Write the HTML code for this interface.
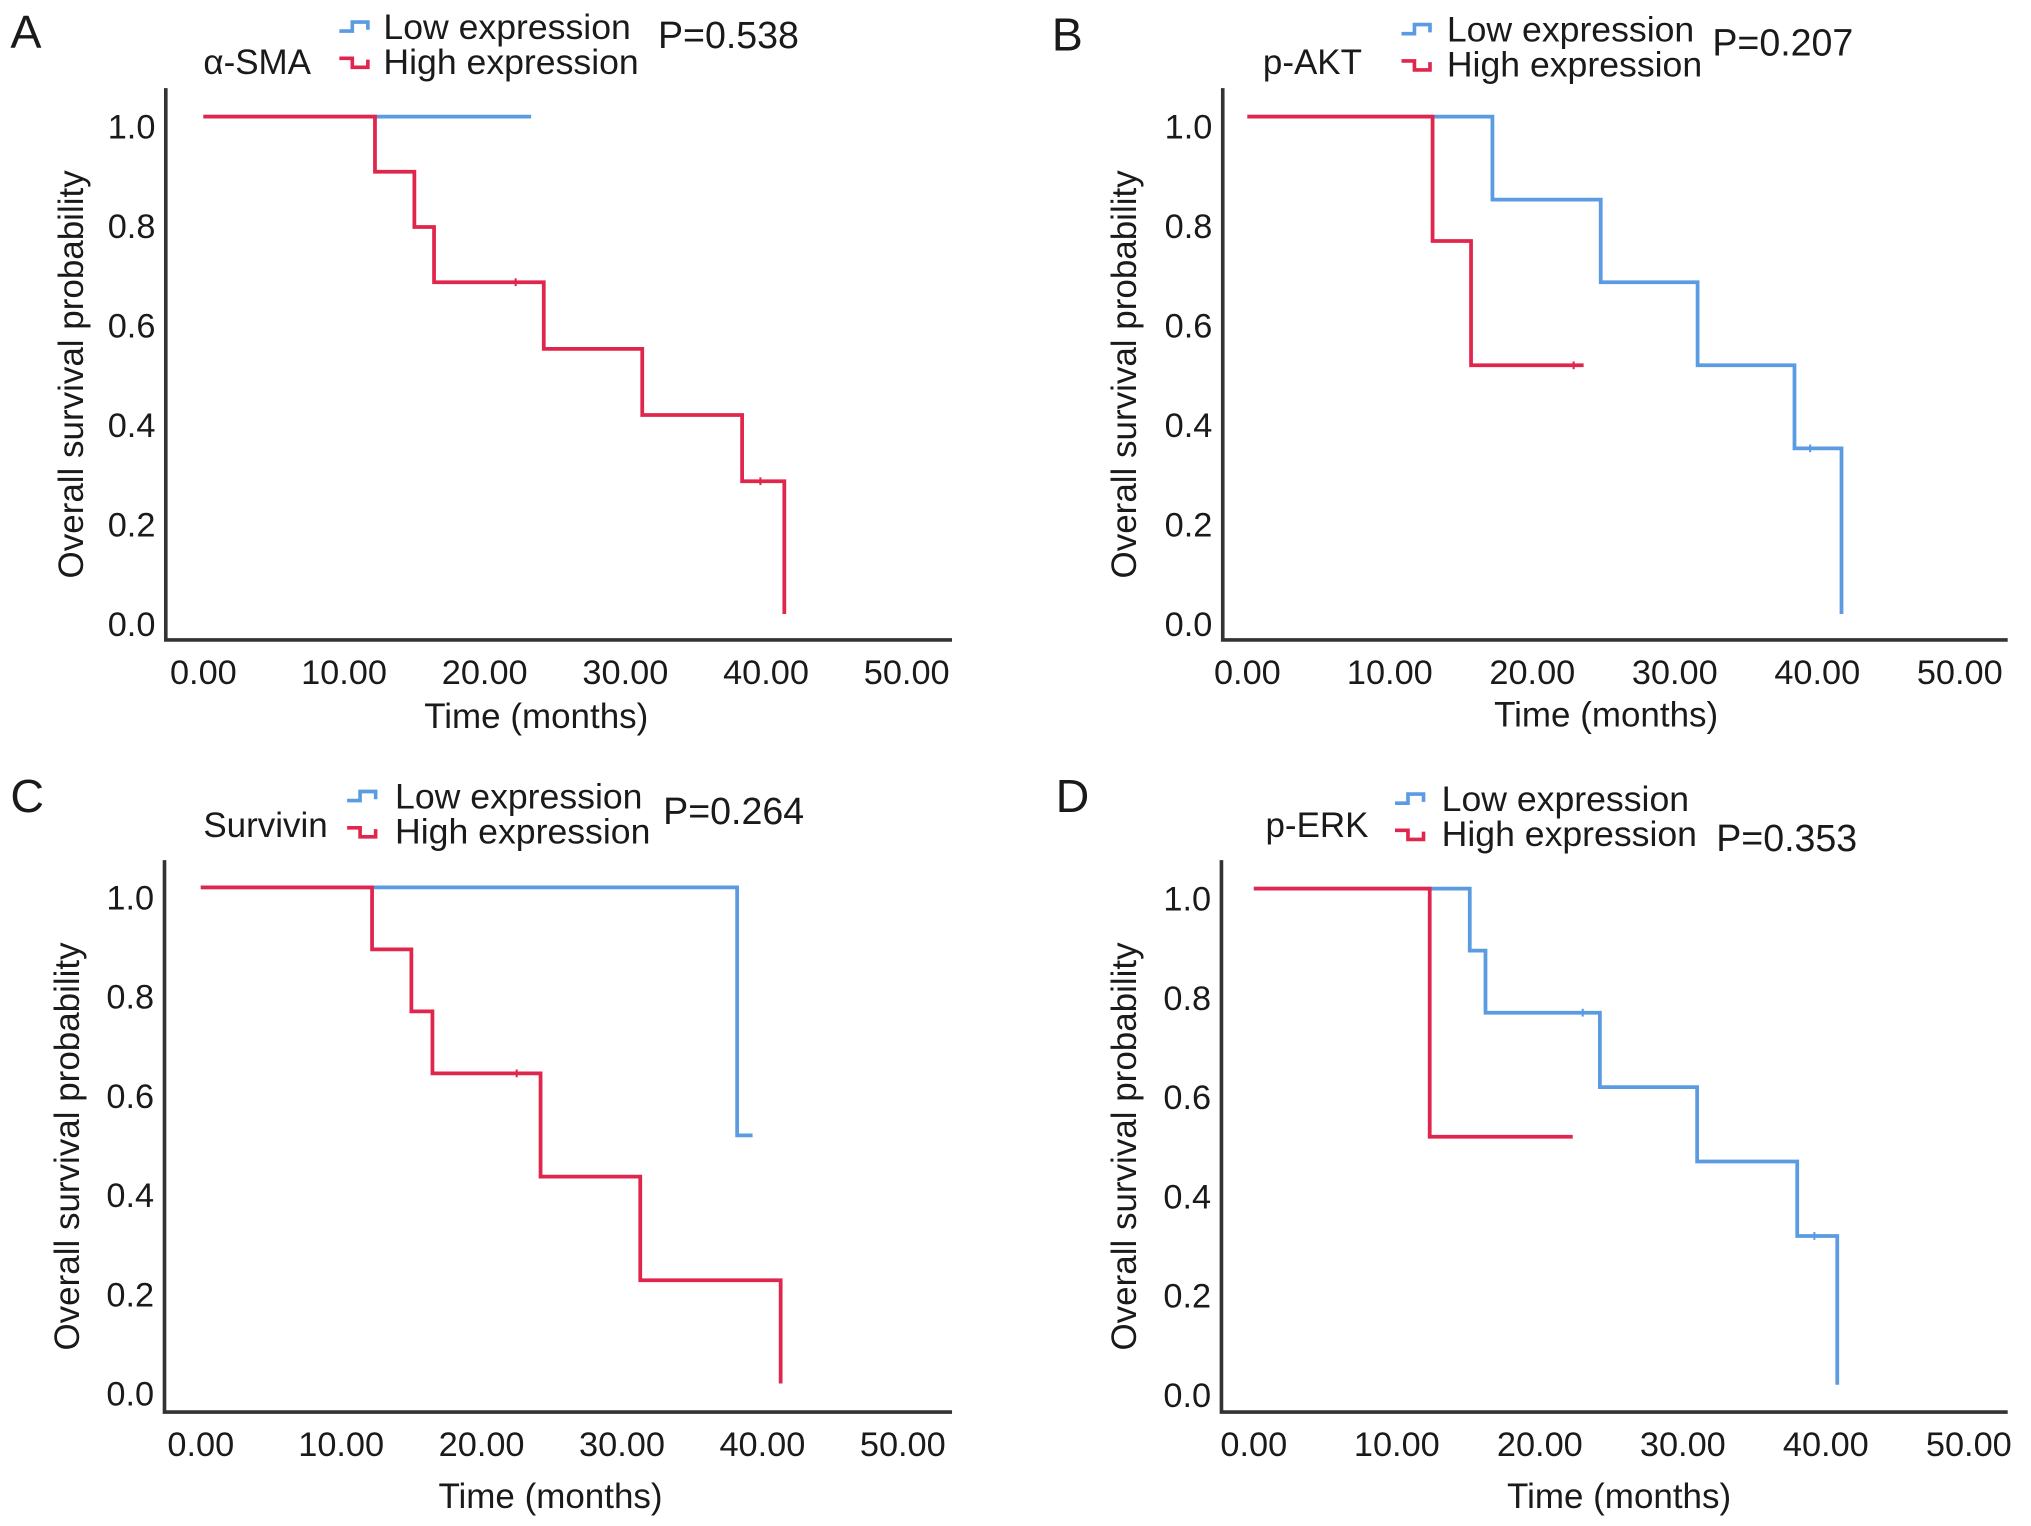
<!DOCTYPE html>
<html><head><meta charset="utf-8"><style>
html,body{margin:0;padding:0;background:#fff}
svg{display:block}
text{font-family:"Liberation Sans",Arial,sans-serif;fill:#1a1a1a}
</style></head><body>
<svg id="fig" width="2031" height="1526" viewBox="0 0 1568 1178" preserveAspectRatio="none" xmlns="http://www.w3.org/2000/svg"></svg>
<script>
const xTicks = [0, 10, 20, 30, 40, 50];
const xTickLabels = ["0.00", "10.00", "20.00", "30.00", "40.00", "50.00"];
const yTicks = [0, 0.2, 0.4, 0.6, 0.8, 1.0];
const yTickLabels = ["0.0", "0.2", "0.4", "0.6", "0.8", "1.0"];

// Panel A (alpha-SMA)
const aLowTimes = [0];          const aLowSurv = [1.0];          const aLowEnd = 23.3;
const aLowCensor = [];
const aHighTimes = [0, 12.2, 15.0, 16.4, 24.2, 31.2, 38.3, 41.3];
const aHighSurv = [1.0, 0.889, 0.778, 0.667, 0.533, 0.4, 0.267, 0.0];
const aHighEnd = 41.3;          const aHighCensor = [22.2, 39.6];
// Panel B (p-AKT)
const bLowTimes = [0, 17.2, 24.8, 31.6, 38.4, 41.7];
const bLowSurv = [1.0, 0.833, 0.667, 0.5, 0.333, 0.0];
const bLowEnd = 41.7;           const bLowCensor = [39.5];
const bHighTimes = [0, 13.0, 15.7];
const bHighSurv = [1.0, 0.75, 0.5];
const bHighEnd = 23.6;          const bHighCensor = [22.9];
// Panel C (Survivin)
const cLowTimes = [0, 38.2];    const cLowSurv = [1.0, 0.5];     const cLowEnd = 39.3;
const cLowCensor = [];
const cHighTimes = [0, 12.2, 15.0, 16.5, 24.2, 31.3, 41.3];
const cHighSurv = [1.0, 0.875, 0.75, 0.625, 0.417, 0.208, 0.0];
const cHighEnd = 41.3;          const cHighCensor = [22.5];
// Panel D (p-ERK)
const dLowTimes = [0, 15.1, 16.2, 24.2, 31.0, 38.0, 40.8];
const dLowSurv = [1.0, 0.875, 0.75, 0.6, 0.45, 0.3, 0.0];
const dLowEnd = 40.8;           const dLowCensor = [23.0, 39.2];
const dHighTimes = [0, 12.3];   const dHighSurv = [1.0, 0.5];    const dHighEnd = 22.3;
const dHighCensor = [];

const BLUE = "#5a9be2", RED = "#e0264c";
const NS = "http://www.w3.org/2000/svg";
const svg = document.getElementById("fig");
function mk(tag, attrs, parent, txt) {
  const e = document.createElementNS(NS, tag);
  for (const k in attrs) e.setAttribute(k, attrs[k]);
  if (txt !== undefined) e.textContent = txt;
  (parent || svg).appendChild(e);
  return e;
}

const panels = [
  {id:"a", letter:"A", lx:8, ly:37, marker:"α-SMA", mx:157, my:57, iconX:262, lowY:30, highY:57, lowTx:296, px:508, py:37, P:"P=0.538",
   ax:128, top:68, bottom:494, right:735, x0:157, x50:700, y1:90, y0:474, ytx:55, xtitleX:414, xtitleY:562,
   low:[aLowTimes,aLowSurv,aLowEnd,aLowCensor], high:[aHighTimes,aHighSurv,aHighEnd,aHighCensor]},
  {id:"b", letter:"B", lx:812, ly:39, marker:"p-AKT", mx:975, my:57, iconX:1082, lowY:32, highY:59, lowTx:1117, px:1322, py:43, P:"P=0.207",
   ax:944, top:68, bottom:494, right:1550, x0:963, x50:1513, y1:90, y0:474, ytx:868, xtitleX:1240, xtitleY:561,
   low:[bLowTimes,bLowSurv,bLowEnd,bLowCensor], high:[bHighTimes,bHighSurv,bHighEnd,bHighCensor]},
  {id:"c", letter:"C", lx:8, ly:627, marker:"Survivin", mx:157, my:646, iconX:268, lowY:624, highY:651, lowTx:305, px:512, py:636, P:"P=0.264",
   ax:127, top:664, bottom:1090, right:735, x0:155, x50:697, y1:685, y0:1068, ytx:52, xtitleX:425, xtitleY:1164,
   low:[cLowTimes,cLowSurv,cLowEnd,cLowCensor], high:[cHighTimes,cHighSurv,cHighEnd,cHighCensor]},
  {id:"d", letter:"D", lx:815, ly:627, marker:"p-ERK", mx:977, my:646, iconX:1077, lowY:626, highY:653, lowTx:1113, px:1325, py:657, P:"P=0.353",
   ax:943, top:664, bottom:1090, right:1550, x0:968, x50:1520, y1:686, y0:1069, ytx:868, xtitleX:1250, xtitleY:1164,
   low:[dLowTimes,dLowSurv,dLowEnd,dLowCensor], high:[dHighTimes,dHighSurv,dHighEnd,dHighCensor]}
];

function legendIcon(g, x, y, color, up) {
  const d = up ? `M${x},${y+3} h10 v-7 h12 v6` : `M${x},${y-3} h10 v7 h12 v-6`;
  mk("path", {d:d, fill:"none", stroke:color, "stroke-width":2.8}, g);
}

panels.forEach(p => {
  const g = mk("g", {});
  
  
  const X = t => p.x0 + (t / 50) * (p.x50 - p.x0);
  const Y = s => p.y0 - s * (p.y0 - p.y1);

  const L = mk("text", {x:p.lx, y:p.ly, "font-size":36}, g, p.letter);
  
  

  const m = mk("text", {x:p.mx, y:p.my, "font-size":27}, g, p.marker);
  
  

  const lg = mk("g", {}, g);
  
  
  legendIcon(lg, p.iconX, p.lowY - 9, BLUE, true);
  const lt = mk("text", {x:p.lowTx, y:p.lowY, "font-size":27.5}, lg, "Low expression");
  
  
  legendIcon(lg, p.iconX, p.highY - 9, RED, false);
  const ht = mk("text", {x:p.lowTx, y:p.highY, "font-size":27.5}, lg, "High expression");
  
  

  const pv = mk("text", {x:p.px, y:p.py, "font-size":29}, g, p.P);
  
  

  const axes = mk("path", {d:`M${p.ax},${p.top} V${p.bottom} H${p.right}`, fill:"none", stroke:"#333", "stroke-width":2.8}, g);
  
  

  xTicks.forEach((t, i) => {
    const e = mk("text", {x:X(t), y:p.bottom + 34, "font-size":26.5, "text-anchor":"middle"}, g, xTickLabels[i]);
    
    
  });
  yTicks.forEach((v, i) => {
    const e = mk("text", {x:p.ax - 8, y:Y(v) + 17, "font-size":26.5, "text-anchor":"end"}, g, yTickLabels[i]);
    
    
  });

  const xt = mk("text", {x:p.xtitleX, y:p.xtitleY, "font-size":27, "text-anchor":"middle"}, g, "Time (months)");
  
  
  const yc = (p.top + p.bottom) / 2 + 8;
  const yt = mk("text", {x:p.ytx, y:yc, "font-size":27, "text-anchor":"middle", transform:`rotate(-90 ${p.ytx} ${yc})`, dy:"9"}, g, "Overall survival probability");
  
  

  [[p.low, BLUE, 'low'], [p.high, RED, 'high']].forEach(([ser, col, nm]) => {
    const [times, surv, end, cens] = ser;
    let d = `M${X(times[0])},${Y(surv[0])}`;
    for (let i = 1; i < times.length; i++) {
      d += ` H${X(times[i])} V${Y(surv[i])}`;
    }
    d += ` H${X(end)}`;
    const path = mk("path", {d:d, fill:"none", stroke:col, "stroke-width":2.9}, g);
    
    
    cens.forEach(c => {
      let s = surv[0];
      for (let i = 0; i < times.length; i++) if (times[i] <= c) s = surv[i];
      const cm = mk("line", {x1:X(c), x2:X(c), y1:Y(s) - 3, y2:Y(s) + 3, stroke:col, "stroke-width":1.6}, g);
      
      
    });
  });
});
</script>
</body></html>
